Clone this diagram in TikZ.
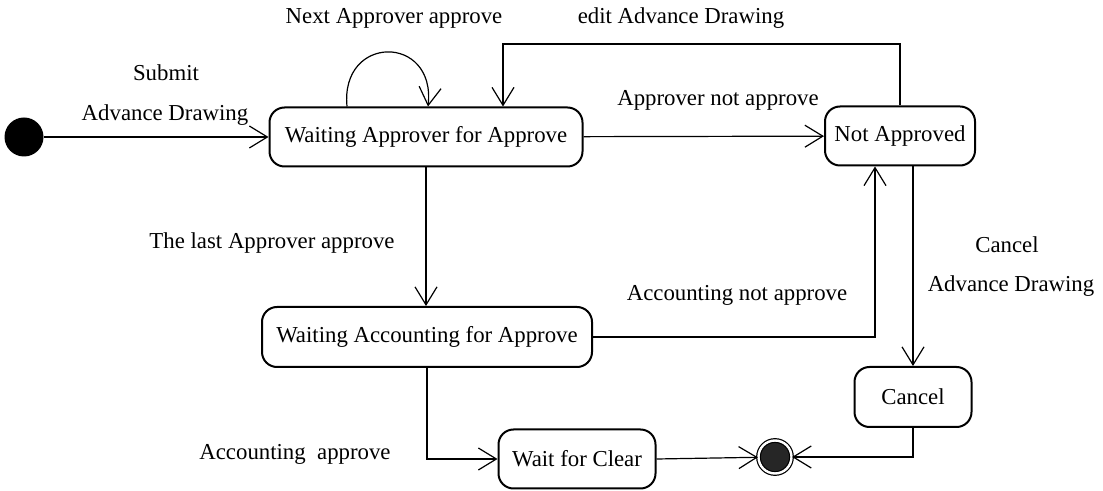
\documentclass[tikz,border=0pt]{standalone}
\usepackage{fontspec}
\setmainfont{Liberation Serif}
\usetikzlibrary{arrows.meta}

\begin{document}
\begin{tikzpicture}[x=0.5pt, y=-0.5pt, font=\fontsize{11.4}{13}\selectfont,
    >={Straight Barb[length=9pt,width=11pt]}, line width=0.6pt,
    main/.style = {draw, rectangle, rounded corners=7.5pt, line width=1pt, inner sep=0pt, minimum height=29.5pt},
    txt/.style = {inner sep=0pt}]
    \useasboundingbox (0,0) rectangle (1103,491);
    \node[circle, fill=black, minimum size=19.5pt, inner sep=0pt] (0) at (24,137) {};
    \node[main, minimum width=156.5pt] (1) at (426,137) {Waiting Approver for Approve};
    \node[main, minimum width=75pt] (2) at (900,136) {Not Approved};
    \node[main, minimum width=165pt, minimum height=30pt] (3) at (427,337) {Waiting Accounting for Approve};
    \node[main, minimum width=78.5pt] (4) at (577,459) {Wait for Clear};
    \node[main, minimum width=58.5pt, minimum height=30pt] (5) at (913,397) {Cancel};
    \node[circle, draw, double, double distance=1.2pt, fill=black!85, minimum size=16.5pt, inner sep=0pt] (6) at (775,457) {};
    \coordinate (edit) at (503,44);
    % labels
    \node[txt] (t1) at (166,73) {Submit};
    \node[txt] (t2) at (165,115) {Advance Drawing};
    \node[txt] (t3) at (394,18) {Next Approver approve};
    \node[txt] (t4) at (681,18) {edit Advance Drawing};
    \node[txt] (t5) at (718,100) {Approver not approve};
    \node[txt] (t6) at (272,243) {The last Approver approve};
    \node[txt] (t7) at (737,295) {Accounting not approve};
    \node[txt] (t8) at (1007,245) {Cancel};
    \node[txt] (t9) at (1011,286) {Advance Drawing};
    \node[txt] (t10) at (295,454) {Accounting~~approve};
    % transitions
    \draw[->] (0) -- (1);
    \draw[->] ([shift={(-79,0)}]1.north) .. controls (340,34) and (436,34) .. ([shift={(2,0)}]1.north);
    \draw[->] (2.north) |- (edit) -- (edit |- 1.north);
    \draw[->] (1) -- (2);
    \draw[->] (1.south) -- (1.south |- 3.north);
    \draw[->] (3.east) -| ([shift={(-25,0)}]2.south);
    \draw[->] (5.north |- 2.south) -- (5.north);
    \draw[->] (3.south) |- (4.west);
    \draw[->] (4.east) -- (6);
    \draw[->] (5.south) |- (6.east);
\end{tikzpicture}
\end{document}
